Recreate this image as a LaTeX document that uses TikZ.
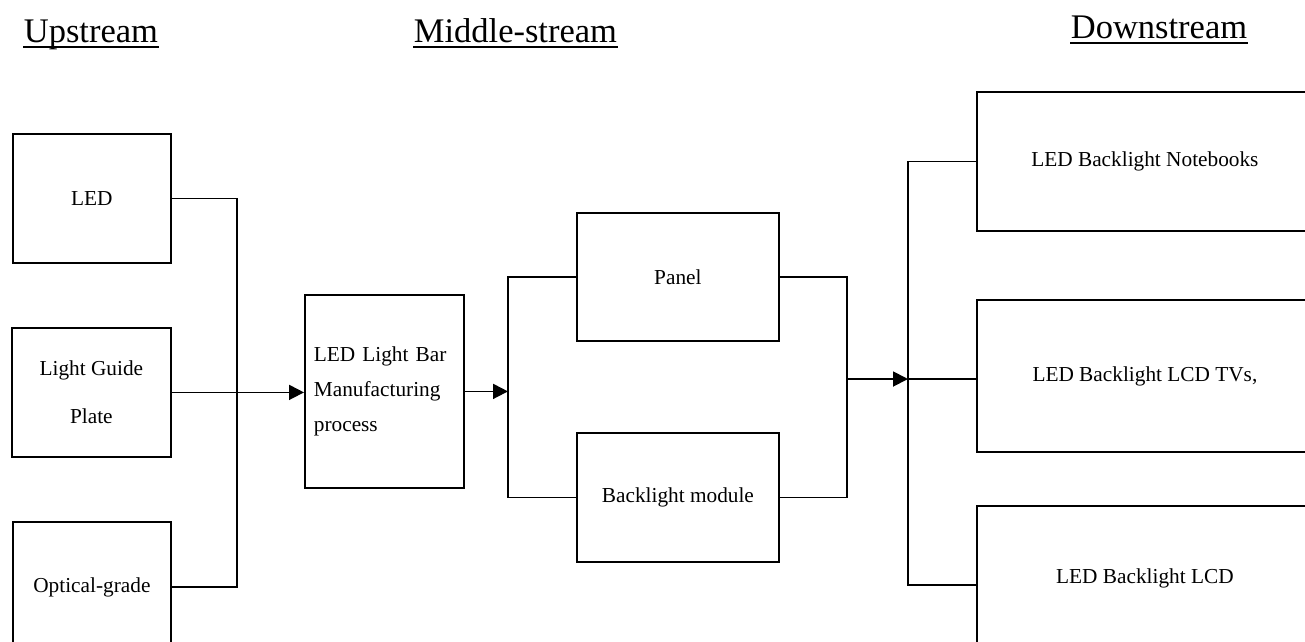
\documentclass[tikz,border=0pt]{standalone}
\usepackage{fontspec}
\setmainfont{Liberation Serif}
\usetikzlibrary{arrows.meta}
\begin{document}
\begin{tikzpicture}[x=1pt,y=-1pt,
  line width=1.8pt,
  box/.style={draw, line width=1.8pt, inner sep=0pt, anchor=north west, font=\fontsize{21.3}{48}\selectfont, align=center},
  head/.style={inner sep=0pt, anchor=base west, font=\fontsize{34.5}{40}\selectfont},
  ul/.style={line width=2.4pt},
  conn/.style={line width=1.8pt},
  arr/.style={line width=1.8pt, -{Triangle[length=15pt,width=15pt]}}]
\useasboundingbox (0,0) rectangle (1305,641);
\clip (0,0) rectangle (1305,641);
% headers
\node[head] (hup) at (23,42) {Upstream};
\node[head] (hmid) at (413,42) {Middle-stream};
\node[head] (hdown) at (1070,38) {Downstream};
\foreach \h in {hup,hmid,hdown}
  \draw[ul] ([yshift=-5pt]\h.base west) -- ([yshift=-5pt]\h.base east);
% upstream boxes
\node[box, minimum width=158pt, minimum height=129pt] (led) at (12,133) {LED};
\node[box, minimum width=159pt, minimum height=129pt] (lgp) at (11,327) {Light Guide\\Plate};
\node[box, minimum width=158pt, minimum height=130pt] (opt) at (12,521) {Optical-grade};
% middle stream
\node[box, minimum width=159pt, minimum height=193pt, text width=141pt, inner xsep=9pt, align=left,
      font=\fontsize{21.3}{35}\selectfont] (bar) at (304,294) {LED Light Bar\\Manufacturing\\process};
\node[box, minimum width=202pt, minimum height=128pt] (panel) at (576,212) {Panel};
\node[box, minimum width=202pt, minimum height=129pt] (back) at (576,432) {Backlight module};
% downstream
\node[box, minimum width=336pt, minimum height=139pt] (nb) at (976,91) {LED Backlight Notebooks};
\node[box, minimum width=336pt, minimum height=152pt] (tv) at (976,299) {LED Backlight LCD TVs,};
\node[box, minimum width=336pt, minimum height=144pt] (lcd) at (976,505) {LED Backlight LCD};
% junction coordinates
\coordinate (busL) at (237,0);
\coordinate (busM) at (508,0);
\coordinate (jR) at (847,379);
\coordinate (jD) at (908,379);
\coordinate (lcdin) at (976,585);
% connectors
\draw[conn] (led.east) -- (led.east -| busL) -- (opt.east -| busL) -- (opt.east);
\draw[arr] (lgp.east) -- (lgp.east -| bar.west);
\draw[arr] (bar.east) -- (bar.east -| busM);
\draw[conn] (panel.west) -- (panel.west -| busM) -- (back.west -| busM) -- (back.west);
\draw[conn] (panel.east) -- (panel.east -| jR) -- (back.east -| jR) -- (back.east);
\draw[arr] (jR) -- (jD);
\draw[conn] (nb.west) -- (nb.west -| jD) -- (lcdin -| jD) -- (lcdin);
\draw[conn] (jD) -- (jD -| tv.west);
\end{tikzpicture}
\end{document}
